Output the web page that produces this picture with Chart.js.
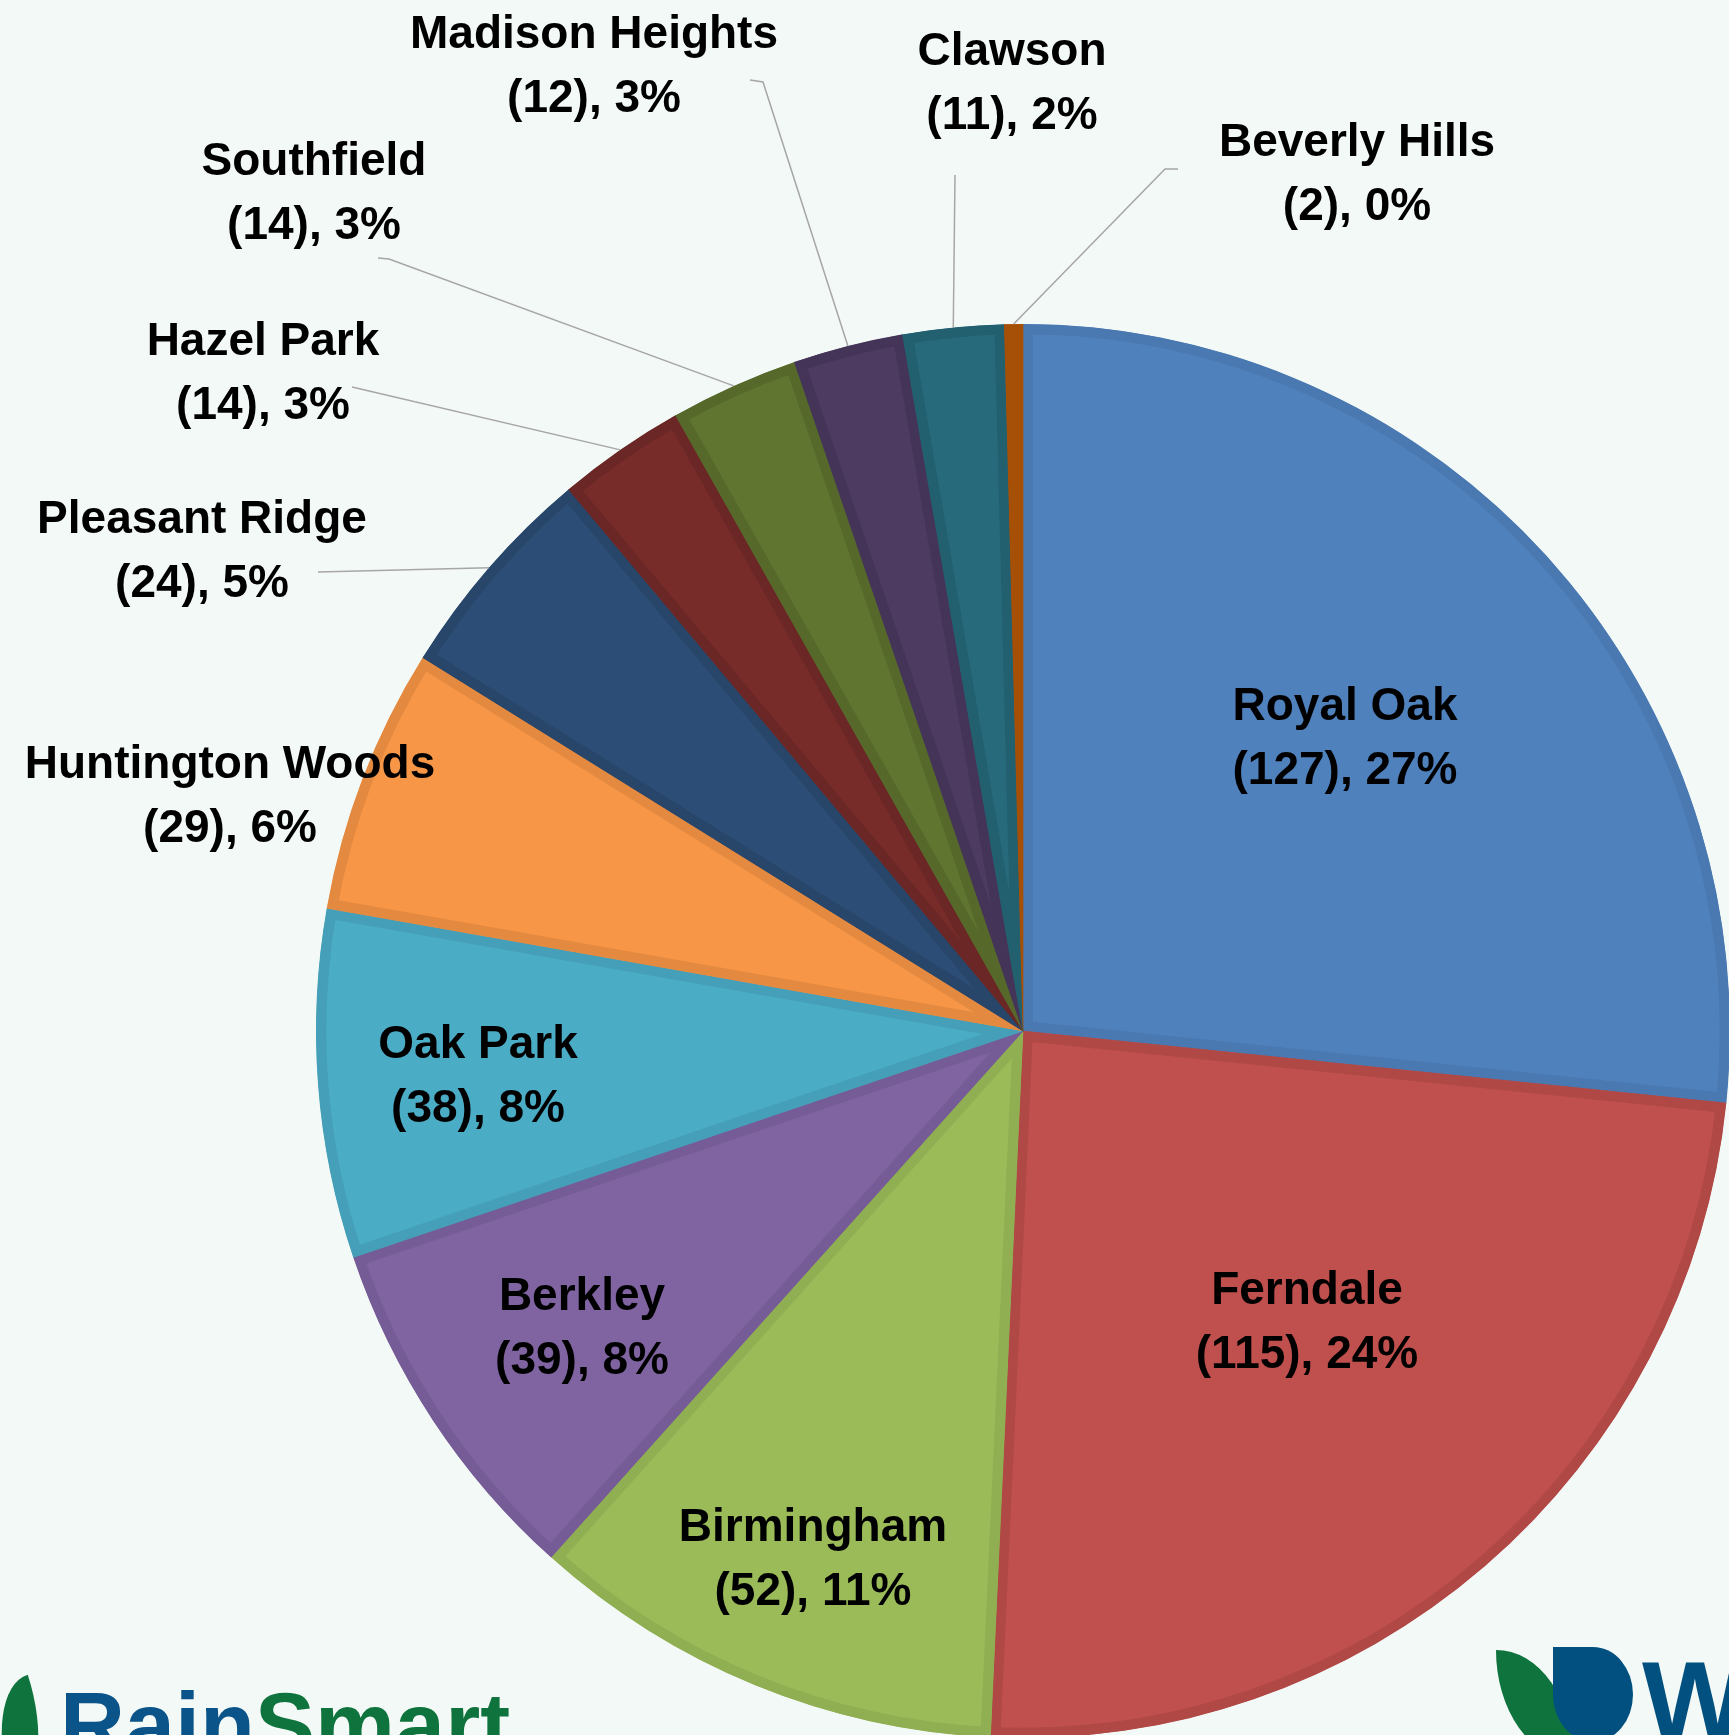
<!DOCTYPE html>
<html>
<head>
<meta charset="utf-8">
<script src="https://cdn.jsdelivr.net/npm/chart.js@4"></script>
<style>
  html, body { margin: 0; padding: 0; width: 1729px; height: 1735px; overflow: hidden; background: #f3f9f6; }
  #chart-pie { position: absolute; left: 0; top: 0; }
  .logo-text { position: absolute; font-family: "Liberation Sans", Arial, sans-serif; font-weight: bold; line-height: 1; white-space: nowrap; }
  .shape { position: absolute; }
</style>
</head>
<body>
<canvas id="chart-pie" width="1800" height="1800"></canvas>

<!-- logos along the bottom edge -->
<div class="shape" style="left:-6px; top:1680px; width:52px; height:110px; background:#0e733c; border-radius:100% 0 100% 0; transform:rotate(-18deg);"></div>
<div class="logo-text" style="left:60px; top:1680px; font-size:90px;"><span style="color:#0b5489">Rain</span><span style="color:#0e733c">Smart</span></div>

<div class="shape" style="left:1496px; top:1650px; width:78px; height:110px; background:#0e733c; border-radius:0 100% 0 100%;"></div>
<div class="shape" style="left:1553px; top:1647px; width:80px; height:95px; background:#02507f; border-radius:0 50% 50% 50%;"></div>
<div class="logo-text" style="left:1642px; top:1645px; font-size:112px; color:#02507f;">W</div>

<script>
// values, clockwise from 12 o'clock
const cities = ['Royal Oak', 'Ferndale', 'Birmingham', 'Berkley', 'Oak Park', 'Huntington Woods',
                'Pleasant Ridge', 'Hazel Park', 'Southfield', 'Madison Heights', 'Clawson', 'Beverly Hills'];
const counts = [127, 115, 52, 39, 38, 29, 24, 14, 14, 12, 11, 2];

const fillColors = ['#4f81bd', '#c0504d', '#9bbb59', '#8064a2', '#4bacc6', '#f79646',
                    '#2c4d75', '#772c2a', '#5f7530', '#4d3b62', '#276a7c', '#b65708'];
const edgeColors = ['#4a78b0', '#b04946', '#90ae52', '#765c96', '#459fb8', '#e48a40',
                    '#284669', '#6a2725', '#56692b', '#443458', '#225f6f', '#a64f07'];

// label anchor (centre of first line) and, for outside labels, leader line start points
const labelPos = [
    {x: 1345, y: 707}, {x: 1307, y: 1291}, {x: 813, y: 1528}, {x: 582, y: 1297},
    {x: 478, y: 1045}, {x: 230, y: 765},
    {x: 202, y: 520, lead: [[318, 572]]},
    {x: 263, y: 342, lead: [[352, 387]]},
    {x: 314, y: 162, lead: [[378, 258], [389, 259]]},
    {x: 594, y: 35, lead: [[750, 80], [763, 82]]},
    {x: 1012, y: 52, lead: [[955, 175]]},
    {x: 1357, y: 143, lead: [[1178, 169], [1165, 169]]}
];

const total = counts.reduce((a, b) => a + b, 0);

const labelPlugin = {
    id: 'cityLabels',
    afterDraw(chart) {
        const ctx = chart.ctx;
        const arcs = chart.getDatasetMeta(0).data;
        ctx.save();

        // leader lines go to the middle of the slice's outer edge
        ctx.strokeStyle = '#a6a6a6';
        ctx.lineWidth = 1.5;
        for (let i = 0; i < arcs.length; ++i) {
            const lp = labelPos[i];
            if (!lp.lead) continue;
            const a = arcs[i];
            const mid = (a.startAngle + a.endAngle) / 2;
            ctx.beginPath();
            ctx.moveTo(lp.lead[0][0], lp.lead[0][1]);
            for (let k = 1; k < lp.lead.length; ++k) ctx.lineTo(lp.lead[k][0], lp.lead[k][1]);
            ctx.lineTo(a.x + Math.cos(mid) * a.outerRadius, a.y + Math.sin(mid) * a.outerRadius);
            ctx.stroke();
        }

        ctx.fillStyle = '#000000';
        ctx.font = 'bold 46px "Liberation Sans", Arial, sans-serif';
        ctx.textAlign = 'center';
        ctx.textBaseline = 'middle';
        for (let i = 0; i < cities.length; ++i) {
            const pct = Math.round(counts[i] / total * 100);
            ctx.fillText(cities[i], labelPos[i].x, labelPos[i].y);
            ctx.fillText('(' + counts[i] + '), ' + pct + '%', labelPos[i].x, labelPos[i].y + 64);
        }
        ctx.restore();
    }
};

let myChart = new Chart(document.getElementById('chart-pie').getContext('2d'), {
    type: 'pie',
    data: {
        labels: cities,
        datasets: [{
            data: counts,
            backgroundColor: fillColors,
            borderColor: edgeColors,
            borderWidth: 10,
            borderAlign: 'inner',
            borderJoinStyle: 'miter',
            hoverOffset: 0,
            offset: 0
        }]
    },
    options: {
        responsive: false,
        animation: false,
        radius: 707,
        layout: { padding: { left: 316, top: 324, right: 70, bottom: 62 } },
        plugins: {
            legend: { display: false },
            tooltip: { enabled: false }
        },
        events: []
    },
    plugins: [labelPlugin]
});
</script>
</body>
</html>
